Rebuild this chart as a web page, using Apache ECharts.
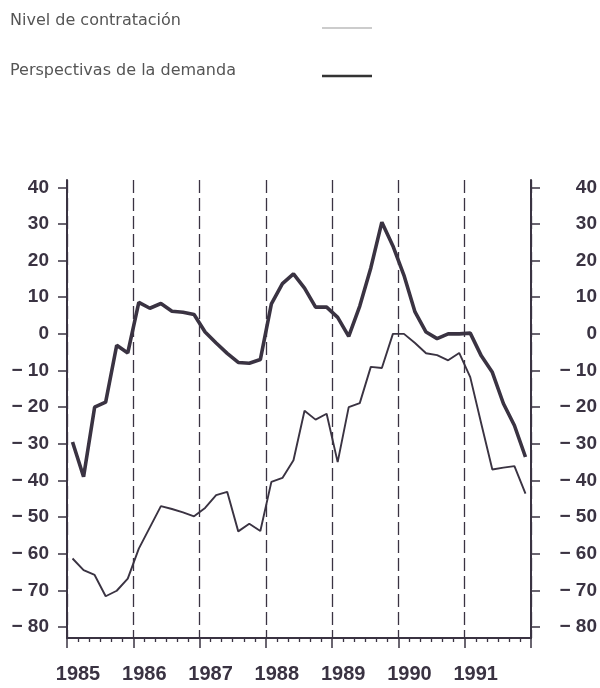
<!DOCTYPE html>
<html>
<head>
<meta charset="utf-8">
<script src="https://cdn.jsdelivr.net/npm/echarts@6/dist/echarts.min.js"></script>
<style>
html,body{margin:0;padding:0;background:#fff;}
#chart{width:600px;height:688px;}
</style>
</head>
<body>
<div id="chart"></div>
<script>
// Bimonthly periods 1985-1991 (6 per year)
const years = [1985, 1986, 1987, 1988, 1989, 1990, 1991];
const bimesters = [1, 2, 3, 4, 5, 6];
const yearLabels = ['1985', '1986', '1987', '1988', '1989', '1990', '1991'];
const yTicks = [-80, -70, -60, -50, -40, -30, -20, -10, 0, 10, 20, 30, 40];

// Nivel de contratación (thin line)
const nivelContratacion = [
  -61.3, -64.5, -65.8, -71.6, -70.1, -66.8,
  -58.6, -52.8, -47.0, -47.8, -48.7, -49.8,
  -47.5, -44.0, -43.1, -53.9, -51.8, -53.8,
  -40.4, -39.3, -34.5, -21.0, -23.4, -21.8,
  -35.0, -20.0, -18.9, -9.0, -9.3, 0.0,
  0.0, -2.5, -5.3, -5.8, -7.2, -5.2,
  -11.8, -24.5, -37.0, -36.5, -36.1, -43.6
];
// Perspectivas de la demanda (thick line)
const perspectivasDemanda = [
  -29.5, -39.0, -20.0, -18.6, -3.1, -5.2,
  8.6, 7.0, 8.3, 6.2, 5.9, 5.3,
  0.5, -2.5, -5.3, -7.8, -8.0, -7.0,
  8.2, 13.7, 16.4, 12.5, 7.3, 7.3,
  4.5, -0.7, 7.6, 18.0, 30.5, 24.0,
  16.0, 6.0, 0.5, -1.3, 0.0, 0.0,
  0.2, -6.0, -10.5, -19.0, -25.0, -33.6
];

// position of each bimester (centre of the two-month period) in decimal years
const periods = [];
years.forEach(y => bimesters.forEach(b => periods.push(y + (2 * b - 1) / 12)));

const ink = '#3a3342';
const fmtY = v => (v < 0 ? '\u2212 ' + Math.abs(v) : String(v));

const chart = echarts.init(document.getElementById('chart'), null, {renderer: 'canvas'});
const yAxisBase = {
  type: 'value', min: -83, max: 42,
  axisLine: {show: true, onZero: false, lineStyle: {color: ink, width: 2}},
  axisTick: {show: true, length: 9, customValues: yTicks, lineStyle: {color: ink, width: 1.5}},
  splitLine: {show: false},
  axisLabel: {
    customValues: yTicks, formatter: fmtY, color: ink,
    fontFamily: 'Liberation Sans', fontWeight: 'bold', fontSize: 19
  }
};
chart.setOption({
  animation: false,
  backgroundColor: '#ffffff',
  grid: {left: 67, right: 69, top: 180, bottom: 50, containLabel: false, outerBoundsMode: 'none'},
  xAxis: {
    type: 'value', min: 1985, max: 1992, interval: 1,
    axisLine: {show: true, onZero: false, lineStyle: {color: ink, width: 2}},
    axisTick: {show: true, length: 10, lineStyle: {color: ink, width: 1.5}},
    minorTick: {show: true, splitNumber: 6, length: 4, lineStyle: {color: ink, width: 1.3}},
    splitLine: {show: true, lineStyle: {color: ink, width: 1.3, type: [13, 5]}},
    axisLabel: {
      show: true, showMinLabel: true, showMaxLabel: false,
      formatter: v => { const i = years.indexOf(Math.round(v)); return i >= 0 ? yearLabels[i] : ''; },
      color: ink, fontFamily: 'Liberation Sans', fontWeight: 'bold', fontSize: 20,
      margin: 26, padding: [0, 0, 0, 22]
    }
  },
  yAxis: [
    Object.assign({}, yAxisBase, {position: 'left', axisLabel: Object.assign({}, yAxisBase.axisLabel, {margin: 18})}),
    Object.assign({}, yAxisBase, {position: 'right', axisLabel: Object.assign({}, yAxisBase.axisLabel, {margin: 66, align: 'right'})})
  ],
  graphic: [
    {type: 'text', left: 10, top: 13, style: {text: 'Nivel de contratación', fill: '#555', font: '16px "DejaVu Sans"'}},
    {type: 'text', left: 10, top: 63, style: {text: 'Perspectivas de la demanda', fill: '#555', font: '16px "DejaVu Sans"'}},
    {type: 'line', shape: {x1: 322, y1: 28, x2: 372, y2: 28}, style: {stroke: '#999', lineWidth: 1}},
    {type: 'line', shape: {x1: 322, y1: 76, x2: 372, y2: 76}, style: {stroke: '#333', lineWidth: 2.5}}
  ],
  series: [
    {
      name: 'Nivel de contratación', type: 'line', showSymbol: false, yAxisIndex: 0,
      lineStyle: {color: ink, width: 1.9}, itemStyle: {color: ink},
      data: periods.map((t, i) => [t, nivelContratacion[i]])
    },
    {
      name: 'Perspectivas de la demanda', type: 'line', showSymbol: false, yAxisIndex: 0,
      lineStyle: {color: ink, width: 3.6}, itemStyle: {color: ink},
      data: periods.map((t, i) => [t, perspectivasDemanda[i]])
    }
  ]
});
</script>
</body>
</html>
